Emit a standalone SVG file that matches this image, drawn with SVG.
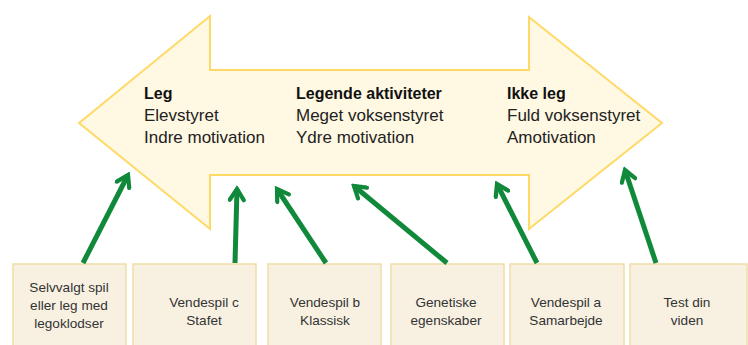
<svg xmlns="http://www.w3.org/2000/svg" width="748" height="345" viewBox="0 0 748 345">
  <defs>
    <style>
      .big { fill: #FFF8E2; stroke: #FFD966; stroke-width: 2; }
      .h { font-family: "Liberation Sans", Arial, sans-serif; font-size: 16px; font-weight: bold; fill: #111; }
      .t { font-family: "Liberation Sans", Arial, sans-serif; font-size: 17px; fill: #222; }
      .box { fill: #F8F1E2; stroke: #F0DDA6; stroke-width: 1.5; }
      .bt { font-family: "Liberation Sans", Arial, sans-serif; font-size: 13.6px; fill: #333; text-anchor: middle; }
      .conn { stroke: #11893A; stroke-width: 5; fill: none; marker-end: url(#head); }
    </style>
    <marker id="head" viewBox="0 0 18 18" refX="14.5" refY="9" markerWidth="18" markerHeight="18" markerUnits="userSpaceOnUse" orient="auto">
      <path d="M3.5,2 L14.5,9 L3.5,16" fill="none" stroke="#11893A" stroke-width="4.2" stroke-linejoin="miter" stroke-linecap="round"/>
    </marker>
  </defs>

  <g id="double-arrow">
    <polygon class="big" points="79,123 210,16 210,70 529,70 529,17 662,123 529,229 529,175 210,175 210,229"/>
    <text class="h" x="144" y="99">Leg</text>
    <text class="t" x="144" y="121">Elevstyret</text>
    <text class="t" x="144" y="143">Indre motivation</text>
    <text class="h" x="296" y="99">Legende aktiviteter</text>
    <text class="t" x="296" y="121">Meget voksenstyret</text>
    <text class="t" x="296" y="143">Ydre motivation</text>
    <text class="h" x="507" y="99">Ikke leg</text>
    <text class="t" x="507" y="121">Fuld voksenstyret</text>
    <text class="t" x="507" y="143">Amotivation</text>
  </g>

  <g id="box1">
    <rect class="box" x="13" y="264" width="113" height="90"/>
    <text class="bt" x="69" y="292">Selvvalgt spil</text>
    <text class="bt" x="69" y="310">eller leg med</text>
    <text class="bt" x="69" y="328">legoklodser</text>
  </g>
  <g id="box2">
    <rect class="box" x="133" y="264" width="123" height="90"/>
    <text class="bt" x="204" y="307">Vendespil c</text>
    <text class="bt" x="204" y="325">Stafet</text>
  </g>
  <g id="box3">
    <rect class="box" x="268" y="264" width="113" height="90"/>
    <text class="bt" x="325" y="307">Vendespil b</text>
    <text class="bt" x="325" y="325">Klassisk</text>
  </g>
  <g id="box4">
    <rect class="box" x="391" y="264" width="113" height="90"/>
    <text class="bt" x="446" y="307">Genetiske</text>
    <text class="bt" x="446" y="325">egenskaber</text>
  </g>
  <g id="box5">
    <rect class="box" x="510" y="264" width="114" height="90"/>
    <text class="bt" x="566" y="307">Vendespil a</text>
    <text class="bt" x="566" y="325">Samarbejde</text>
  </g>
  <g id="box6">
    <rect class="box" x="630" y="264" width="117" height="90"/>
    <text class="bt" x="687" y="307">Test din</text>
    <text class="bt" x="687" y="325">viden</text>
  </g>

  <g id="connectors">
    <line class="conn" x1="83" y1="263" x2="128" y2="175"/>
    <line class="conn" x1="235" y1="263" x2="237" y2="189"/>
    <line class="conn" x1="326" y1="263" x2="277" y2="189"/>
    <line class="conn" x1="447" y1="263" x2="354" y2="186"/>
    <line class="conn" x1="537" y1="263" x2="497" y2="184"/>
    <line class="conn" x1="656" y1="263" x2="625" y2="170"/>
  </g>
</svg>
